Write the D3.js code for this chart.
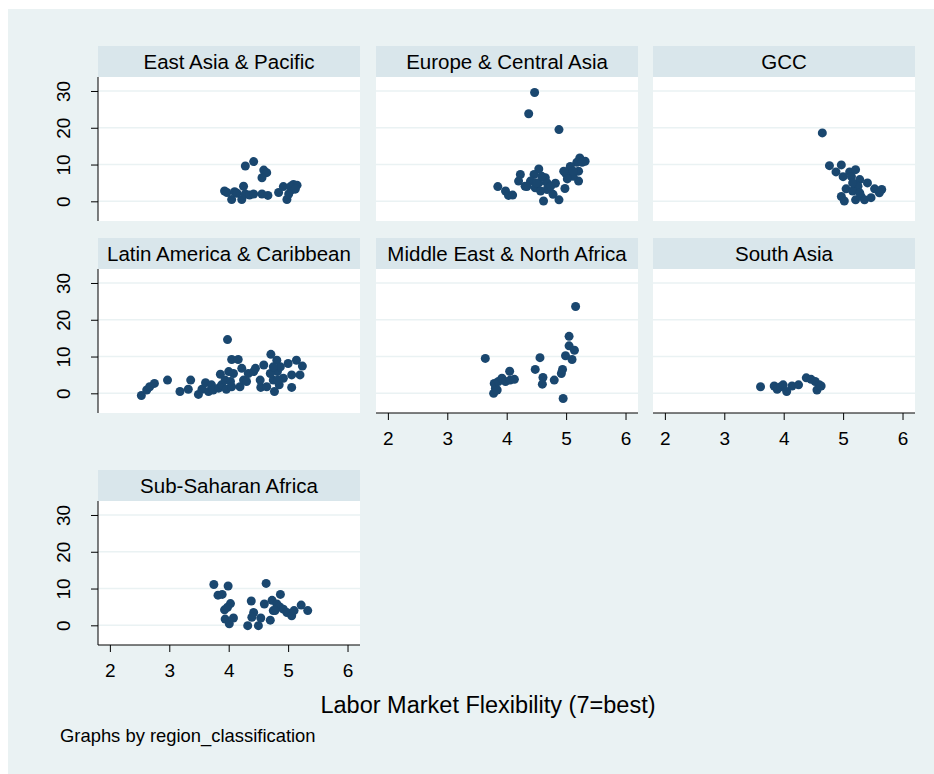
<!DOCTYPE html>
<html>
<head>
<meta charset="utf-8">
<script src="https://cdn.jsdelivr.net/npm/d3@7/dist/d3.min.js"></script>
<style>
  body { margin: 0; background: #ffffff; }
  text { font-family: "Liberation Sans", Arial, sans-serif; fill: #000; }
</style>
</head>
<body>
<div id="chart"></div>
<script>
// data: [labor market flexibility, y value]
var regions = ["East Asia & Pacific", "Europe & Central Asia", "GCC",
  "Latin America & Caribbean", "Middle East & North Africa", "South Asia",
  "Sub-Saharan Africa"];

var eastAsia = [[3.93,2.8],[3.97,2.4],[4.05,0.5],[4.10,2.6],[4.14,2.2],[4.22,0.5],[4.25,4.1],
  [4.28,2.0],[4.35,1.7],[4.42,2.0],[4.28,9.6],[4.42,10.8],[4.59,8.5],[4.64,7.8],[4.56,6.4],
  [4.56,2.0],[4.66,1.6],[4.84,2.4],[4.92,4.0],[4.98,0.5],[5.04,4.0],[5.06,3.1],[5.09,4.6],
  [5.15,4.4],[5.12,3.3],[5.01,2.0]];

var europe = [[4.47,29.6],[4.37,23.8],[4.88,19.5],[5.23,11.8],[5.32,10.9],[5.18,10.6],[5.07,9.5],
  [4.99,7.7],[5.07,7.3],[5.21,8.2],[5.21,5.5],[5.12,6.8],[4.98,3.5],[4.82,4.9],[4.78,1.9],
  [4.88,0.4],[4.62,0.1],[4.68,3.2],[4.65,6.4],[4.54,8.8],[4.46,7.3],[4.40,5.5],[4.31,4.1],
  [4.23,7.3],[4.20,5.5],[4.34,4.0],[4.48,3.7],[4.57,2.8],[4.54,5.0],[4.68,5.0],[4.74,4.1],
  [3.85,4.0],[3.98,2.8],[4.03,1.6],[4.10,1.7],[4.59,6.8],[4.50,5.0],[5.02,6.1],[4.96,8.2],
  [5.12,8.2],[5.27,10.6]];

var gcc = [[4.65,18.6],[4.77,9.7],[4.97,9.9],[4.88,8.0],[5.00,6.7],[5.11,8.0],[5.21,8.6],
  [5.14,6.7],[5.28,5.9],[5.41,5.0],[5.25,4.1],[5.05,3.4],[4.97,1.3],[5.02,0.1],[5.16,2.8],
  [5.21,0.4],[5.30,1.4],[5.36,0.4],[5.47,1.0],[5.53,3.4],[5.65,3.2],[5.61,2.3],[5.28,2.3],
  [5.16,5.0]];

var latinAmerica = [[2.53,-0.6],[2.62,0.9],[2.67,1.8],[2.75,2.7],[2.97,3.6],[3.18,0.5],[3.32,1.1],
  [3.36,3.6],[3.49,-0.3],[3.55,1.1],[3.61,2.9],[3.66,0.5],[3.71,2.3],[3.74,0.9],[3.83,1.4],
  [3.88,2.3],[3.96,1.1],[3.86,5.2],[3.94,3.6],[4.00,5.9],[3.98,14.6],[4.05,9.2],[4.16,9.2],
  [4.08,5.4],[4.03,3.2],[4.05,1.8],[4.19,1.8],[4.22,6.8],[4.25,3.6],[4.33,5.4],[4.30,3.2],
  [4.42,5.9],[4.45,6.8],[4.53,3.6],[4.54,1.6],[4.59,7.7],[4.64,1.8],[4.71,10.6],[4.75,3.6],
  [4.77,0.5],[4.81,9.0],[4.82,5.9],[4.85,2.3],[4.87,7.2],[4.92,4.1],[5.00,8.1],[5.06,1.6],
  [5.06,5.0],[5.14,9.0],[5.20,5.0],[5.24,7.4],[4.70,5.4],[4.75,7.2],[4.83,3.6]];

var middleEast = [[3.64,9.5],[3.78,0.0],[3.81,1.4],[3.79,2.7],[3.84,0.9],[3.86,3.2],[3.92,4.1],
  [3.98,3.2],[4.05,6.0],[4.06,3.6],[4.13,3.8],[4.48,6.5],[4.56,9.7],[4.61,4.3],[4.60,2.5],
  [4.80,3.6],[4.92,5.4],[4.94,6.5],[4.95,-1.4],[4.99,10.2],[5.05,15.5],[5.05,12.9],[5.10,9.2],
  [5.14,11.7],[5.16,23.6]];

var southAsia = [[3.61,1.8],[3.84,2.0],[3.89,1.1],[3.95,1.8],[3.99,2.3],[4.05,0.5],[4.14,2.0],
  [4.25,2.3],[4.38,4.2],[4.46,3.8],[4.53,3.2],[4.60,2.3],[4.56,0.9],[4.63,2.0]];

var subSaharan = [[3.75,11.1],[3.82,8.2],[3.89,8.4],[3.99,10.7],[3.93,4.2],[4.03,5.9],[3.98,4.9],
  [3.94,1.7],[4.01,0.4],[4.08,2.0],[4.32,-0.1],[4.38,6.6],[4.42,3.5],[4.39,2.2],[4.50,-0.1],
  [4.54,2.0],[4.60,5.8],[4.63,11.4],[4.70,1.4],[4.73,6.8],[4.75,4.0],[4.81,5.8],[4.87,8.4],
  [4.86,5.0],[4.92,4.4],[4.98,3.5],[5.06,2.6],[5.10,4.0],[5.22,5.5],[5.33,4.0],[4.78,4.0]];

var regionData = [eastAsia, europe, gcc, latinAmerica, middleEast, southAsia, subSaharan];
var xTicks = [2, 3, 4, 5, 6];
var yTicks = [0, 10, 20, 30];
var xTitle = "Labor Market Flexibility (7=best)";
var note = "Graphs by region_classification";

// layout
var W = 934, H = 774;
var colLeft = [98, 376, 653];
var panelW = 262;
var rowTop = [46, 238, 470];
var headH = 31, plotH = 144;
var showX = [false, false, false, false, true, true, true];

var svg = d3.select("#chart").append("svg")
    .attr("width", W)
    .attr("height", H);

svg.append("rect")
    .attr("x", 8).attr("y", 9)
    .attr("width", W - 8).attr("height", H - 9)
    .attr("fill", "#eaf2f3");

var x = d3.scaleLinear().domain([1.8, 6.21]).range([0, panelW]);
var y = d3.scaleLinear().domain([-5.35, 33.8]).range([plotH, 0]);

regions.forEach(function(name, i) {
    var col = i % 3, row = Math.floor(i / 3);
    var g = svg.append("g")
        .attr("transform", "translate(" + colLeft[col] + "," + rowTop[row] + ")");

    g.append("rect")
        .attr("width", panelW).attr("height", headH)
        .attr("fill", "#d9e6eb");
    g.append("text")
        .attr("x", panelW / 2).attr("y", headH / 2 + 7)
        .attr("text-anchor", "middle")
        .attr("font-size", "20.5px")
        .text(name);

    var p = g.append("g").attr("transform", "translate(0," + headH + ")");
    p.append("rect")
        .attr("width", panelW).attr("height", plotH)
        .attr("fill", "#ffffff");

    p.selectAll(".grid").data(yTicks).enter().append("line")
        .attr("x1", 0).attr("x2", panelW)
        .attr("y1", d => y(d)).attr("y2", d => y(d))
        .attr("stroke", "#eaf2f3")
        .attr("stroke-width", 1.6);

    if (col == 0) {
        var yAxis = d3.axisLeft(y).tickValues(yTicks).tickSize(7).tickPadding(0)
            .tickFormat(d3.format("d"));
        var ya = p.append("g").call(yAxis);
        ya.select(".domain").attr("d", "M0,0V" + plotH).attr("stroke", "#000");
        ya.selectAll(".tick line").attr("stroke", "#000");
        ya.selectAll(".tick text")
            .attr("font-size", "19px")
            .attr("font-family", "Liberation Sans, Arial, sans-serif")
            .attr("fill", "#000")
            .attr("text-anchor", "middle")
            .attr("transform", "rotate(-90)")
            .attr("x", 0).attr("y", -28)
            .attr("dy", 0);
    }

    if (showX[i]) {
        var xAxis = d3.axisBottom(x).tickValues(xTicks).tickSize(7).tickPadding(0)
            .tickFormat(d3.format("d"));
        var xa = p.append("g").attr("transform", "translate(0," + plotH + ")").call(xAxis);
        xa.select(".domain").attr("d", "M0,0H" + panelW).attr("stroke", "#000");
        xa.selectAll(".tick line").attr("stroke", "#000");
        xa.selectAll(".tick text")
            .attr("font-size", "19px")
            .attr("font-family", "Liberation Sans, Arial, sans-serif")
            .attr("fill", "#000")
            .attr("y", 26)
            .attr("dy", "0.32em");
    }

    p.selectAll(".dot").data(regionData[i]).enter().append("circle")
        .attr("cx", d => x(d[0]))
        .attr("cy", d => y(d[1]))
        .attr("r", 4.5)
        .attr("fill", "#1a476f");
});

svg.append("text")
    .attr("x", 488).attr("y", 713)
    .attr("text-anchor", "middle")
    .attr("font-size", "23.5px")
    .text(xTitle);

svg.append("text")
    .attr("x", 60).attr("y", 742)
    .attr("font-size", "18.4px")
    .text(note);
</script>
</body>
</html>
